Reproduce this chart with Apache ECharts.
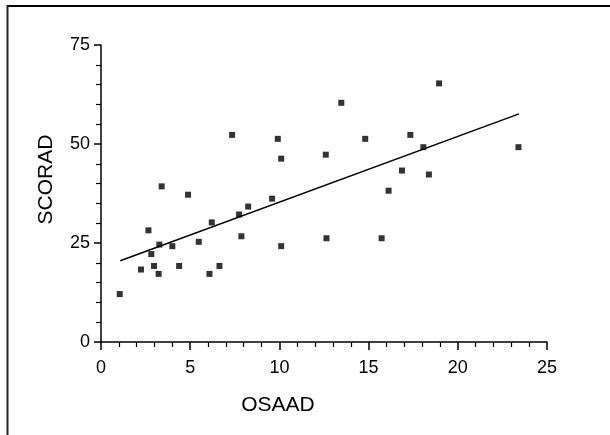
<!DOCTYPE html>
<html>
<head>
<meta charset="utf-8">
<script src="https://cdn.jsdelivr.net/npm/echarts@6/dist/echarts.min.js"></script>
<style>
html,body{margin:0;padding:0;background:#fff;}
#c{width:610px;height:435px;}
</style>
</head>
<body>
<div id="c"></div>
<script>
// OSAAD (x) values of the scatter points
var osaad = [1.05, 2.24, 2.66, 2.82, 2.97, 3.23, 3.27, 3.40, 4.00, 4.38, 4.88, 5.48, 6.08, 6.21, 6.64,
  7.35, 7.74, 7.87, 8.25, 9.59, 9.91, 10.10, 10.10, 12.60, 12.64, 13.47, 14.81, 15.73, 16.12, 16.87,
  17.34, 18.07, 18.38, 18.95, 23.40];
// SCORAD (y) values of the scatter points
var scorad = [12.1, 18.3, 28.2, 22.2, 19.2, 17.2, 24.6, 39.3, 24.2, 19.2, 37.2, 25.3, 17.2, 30.2, 19.2,
  52.3, 32.2, 26.7, 34.2, 36.2, 51.3, 46.3, 24.2, 47.3, 26.2, 60.4, 51.3, 26.2, 38.2, 43.3,
  52.3, 49.2, 42.3, 65.3, 49.2];
// Regression line end points
var trendX = [1.08, 23.43];
var trendY = [20.5, 57.6];
var xTicks = [0, 5, 10, 15, 20, 25];
var yTicks = [0, 25, 50, 75];

var pts = osaad.map(function (x, i) { return [x, scorad[i]]; });
var trend = trendX.map(function (x, i) { return [x, trendY[i]]; });

var font = 'Liberation Sans, Arial, sans-serif';
var chart = echarts.init(document.getElementById('c'), null, {renderer: 'canvas'});
chart.setOption({
  animation: false,
  backgroundColor: '#fff',
  grid: {left: 101, top: 45, width: 446, height: 297, containLabel: false},
  xAxis: {
    type: 'value', min: xTicks[0], max: xTicks[xTicks.length - 1], interval: 5,
    name: 'OSAAD', nameLocation: 'middle', nameGap: 53,
    nameTextStyle: {fontFamily: font, fontSize: 21, color: '#000', padding: [0, 92, 0, 0]},
    axisLine: {show: true, onZero: false, lineStyle: {color: '#000', width: 1.5}},
    axisTick: {show: true, inside: false, length: 8, lineStyle: {color: '#000', width: 1.5}},
    minorTick: {show: true, splitNumber: 5, length: 5, lineStyle: {color: '#000', width: 1.2}},
    splitLine: {show: false},
    axisLabel: {fontFamily: font, fontSize: 18, color: '#000', margin: 17}
  },
  yAxis: {
    type: 'value', min: yTicks[0], max: yTicks[yTicks.length - 1], interval: 25,
    name: 'SCORAD', nameLocation: 'middle', nameGap: 44,
    nameTextStyle: {fontFamily: font, fontSize: 21, color: '#000', padding: [0, 0, 0, 28]},
    axisLine: {show: true, onZero: false, lineStyle: {color: '#000', width: 1.5}},
    axisTick: {show: true, inside: false, length: 7, lineStyle: {color: '#000', width: 1.5}},
    minorTick: {show: true, splitNumber: 5, length: 5, lineStyle: {color: '#000', width: 1.2}},
    splitLine: {show: false},
    axisLabel: {fontFamily: font, fontSize: 18, color: '#000', margin: 11}
  },
  graphic: [
    {type: 'line', shape: {x1: 7, y1: 6, x2: 610, y2: 6}, style: {stroke: '#000', lineWidth: 2}},
    {type: 'line', shape: {x1: 7.5, y1: 5, x2: 7.5, y2: 435}, style: {stroke: '#222', lineWidth: 2}}
  ],
  series: [
    {
      type: 'scatter', data: pts, symbol: 'rect', symbolSize: 6,
      itemStyle: {color: '#000'}
    },
    {
      type: 'line', data: trend, symbol: 'none',
      lineStyle: {color: '#000', width: 1.5}
    }
  ]
});
</script>
</body>
</html>
